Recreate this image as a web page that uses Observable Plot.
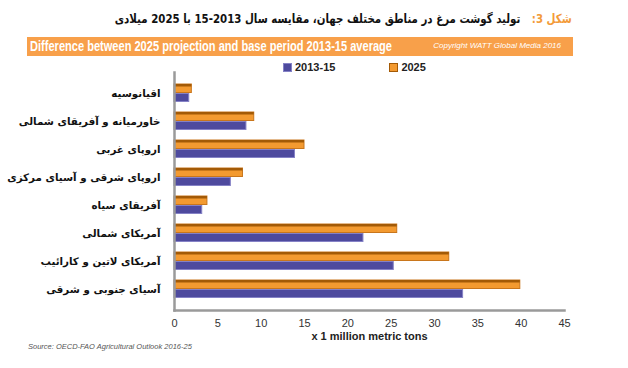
<!DOCTYPE html>
<html>
<head>
<meta charset="utf-8">
<script src="https://cdn.jsdelivr.net/npm/d3@7"></script>
<script src="https://cdn.jsdelivr.net/npm/@observablehq/plot@0.6"></script>
<style>
  html, body { margin: 0; padding: 0; background: #fff; }
  #wrap { position: relative; width: 628px; height: 368px; overflow: hidden; font-family: "DejaVu Sans", sans-serif; }
  #title { position: absolute; right: 56px; top: 11px; direction: rtl; white-space: nowrap; font-weight: bold; font-size: 12.5px; color: #111; transform-origin: right center; }
  #title .fig { color: #f39b3a; margin-left: 14px; }
  #banner { position: absolute; left: 27px; top: 37px; width: 546px; height: 19px; background: #f8a04a; }
  #banner .t { position: absolute; left: 3px; top: 1px; color: #fff; font-family: "Liberation Sans Narrow", "Liberation Sans", sans-serif; font-weight: bold; font-size: 14px; white-space: nowrap; transform-origin: left center; }
  #banner .c { position: absolute; right: 12px; top: 4px; color: #fff; font-family: "Liberation Sans", sans-serif; font-style: italic; font-size: 8px; white-space: nowrap; }
  #legend { position: absolute; top: 61px; left: 283px; font-family: "Liberation Sans", sans-serif; font-weight: bold; font-size: 11px; color: #222; white-space: nowrap; }
  #legend span.sw { display: inline-block; width: 9px; height: 9px; vertical-align: -1px; margin-right: 3px; box-sizing: border-box; }
  #legend .item { display: inline-block; margin-right: 54px; }
  #chart { position: absolute; left: 0; top: 60px; }
  #source { position: absolute; left: 28px; top: 342px; font-family: "Liberation Sans", sans-serif; font-style: italic; font-size: 7.5px; color: #555; }
</style>
</head>
<body>
<div id="wrap">
  <div id="title"><span class="fig">شکل 3:</span>تولید گوشت مرغ در مناطق مختلف جهان، مقایسه سال 2013-15 با 2025 میلادی</div>
  <div id="banner"><span class="t">Difference between 2025 projection and base period 2013-15 average</span><span class="c">Copyright WATT Global Media 2016</span></div>
  <div id="legend"></div>
  <div id="chart"></div>
  <div id="source">Source: OECD-FAO Agricultural Outlook 2016-25</div>
</div>
<script>
const regions = [
  "اقیانوسیه",
  "خاورمیانه و آفریقای شمالی",
  "اروپای غربی",
  "اروپای شرقی و آسیای مرکزی",
  "آفریقای سیاه",
  "آمریکای شمالی",
  "آمریکای لاتین و کارائیب",
  "آسیای جنوبی و شرقی"
];
const base2013_15 = [1.7, 8.3, 13.9, 6.5, 3.2, 21.8, 25.3, 33.3];
const proj2025 = [2.0, 9.2, 15.0, 7.9, 3.8, 25.7, 31.7, 39.9];
const seriesNames = ["2013-15", "2025"];
const xTicks = [0, 5, 10, 15, 20, 25, 30, 35, 40, 45];
const xLabel = "x 1 million metric tons";

const blue = "#4e4a9e", blueEdge = "#8582c6";
const orange = "#f39a30", orangeEdge = "#c9761c", orangeDark = "#a35a06";

// legend
const lg = document.getElementById("legend");
lg.innerHTML =
  `<span class="item"><span class="sw" style="background:${blue};border:1px solid ${blueEdge}"></span>${seriesNames[0]}</span>` +
  `<span class="item"><span class="sw" style="background:${orange};border:1px solid ${orangeDark}"></span>${seriesNames[1]}</span>`;

// fit banner title and main title widths
const bt = document.querySelector("#banner .t");
bt.style.transform = `scaleX(${362 / bt.getBoundingClientRect().width})`;
const tt = document.getElementById("title");
tt.style.transform = `scaleX(${457 / tt.getBoundingClientRect().width})`;

const rows = regions.map((r, i) => ({region: r, base: base2013_15[i], proj: proj2025[i]}));

const chart = Plot.plot({
  width: 628,
  height: 300,
  marginLeft: 174,
  marginRight: 64,
  marginTop: 12,
  marginBottom: 50,
  style: {fontFamily: "Liberation Sans, sans-serif", fontSize: "11px", color: "#333", background: "transparent"},
  x: {domain: [0, 45], ticks: xTicks, tickSize: 0, tickPadding: 6, label: null},
  y: {domain: regions, padding: 0.36, label: null, tickSize: 0},
  marks: [
    Plot.axisX({ticks: xTicks, tickSize: 0, tickPadding: 9, fill: "#333", fontSize: 11, label: null}),
    Plot.axisY({tickSize: 0, tickPadding: 14, fontWeight: "bold", fontSize: 10.3, fill: "#111", fontFamily: "DejaVu Sans, sans-serif", label: null}),
    // 2025 bars (upper half of band)
    Plot.barX(rows, {y: "region", x: "proj", fill: orange, stroke: orangeEdge, strokeWidth: 1, insetBottom: 9.5}),
    Plot.barX(rows, {y: "region", x: "proj", fill: orangeDark, insetBottom: 15.5}),
    // 2013-15 bars (lower half of band)
    Plot.barX(rows, {y: "region", x: "base", fill: blue, stroke: blueEdge, strokeWidth: 1, insetTop: 9.5, insetBottom: 0.5}),
    // frame lines
    Plot.frame({anchor: "left", stroke: "#9a9a9a", strokeWidth: 2.5}),
    Plot.frame({anchor: "bottom", stroke: "#9a9a9a", strokeWidth: 2.5}),
    Plot.text([xLabel], {frameAnchor: "bottom", dy: 29, fontWeight: "bold", fontSize: 11, fill: "#222"})
  ]
});
document.getElementById("chart").appendChild(chart);
</script>
</body>
</html>
